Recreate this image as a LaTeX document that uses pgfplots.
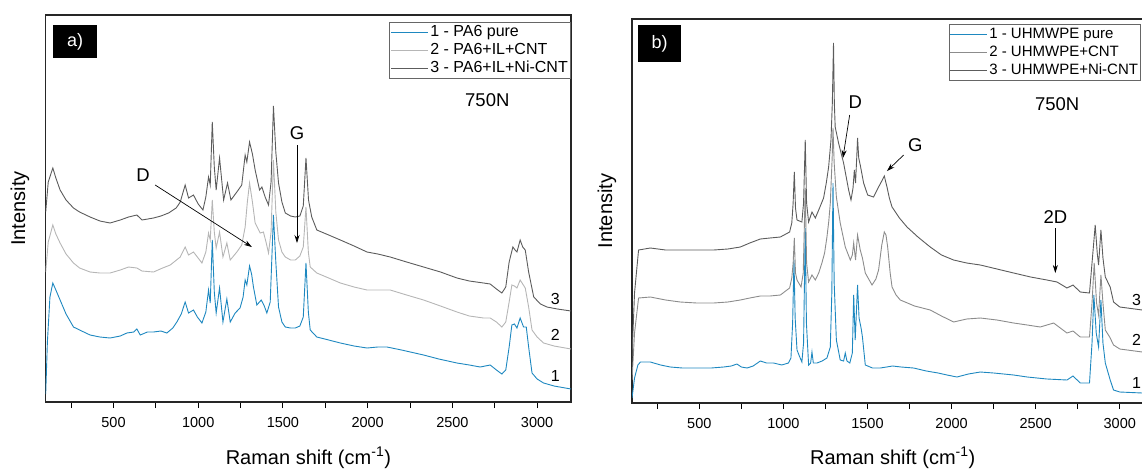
\documentclass[border=0pt]{standalone}
\usepackage{fontspec}
\setmainfont{Liberation Sans}
\usepackage{pgfplots}
\pgfplotsset{compat=1.18}
\usetikzlibrary{arrows.meta}

\definecolor{cblue}{RGB}{30,136,192}
\definecolor{clight}{RGB}{182,182,182}
\definecolor{cmid}{RGB}{140,140,140}
\definecolor{cdark}{RGB}{92,92,92}

\tikzset{
  ann/.style={font=\fontsize{18.5}{20}\selectfont},
  num/.style={font=\fontsize{16}{18}\selectfont},
  arr/.style={-{Stealth[length=8pt,width=5pt]}, line width=0.7pt, black},
  lab/.style={font=\fontsize{20}{22}\selectfont, anchor=center},
}

\pgfplotsset{
  raman/.style={
    scale only axis,
    xmin=100, xmax=3200, ymin=0,
    xtick={500,1000,...,3000},
    minor xtick={250,750,...,2750},
    ytick=\empty,
    tick pos=bottom, tick align=outside,
    major tick length=6pt, minor tick length=6pt,
    every tick/.style={black, line width=0.9pt},
    axis line style={black!85, line width=1.2pt},
    /pgf/number format/1000 sep={},
    /pgf/number format/assume math mode=true,
    xticklabel style={font=\fontsize{14.5}{16}\selectfont, yshift=-6pt},
    legend style={draw=black!60, line width=0.8pt, fill=white,
      font=\fontsize{16}{16}\selectfont, inner xsep=1pt, inner ysep=1pt,
      row sep=0pt, cells={anchor=west},
      nodes={inner sep=1.5pt, text height=11.5pt, text depth=3.5pt}},
    legend image code/.code={\draw[##1] (0pt,0pt) -- (37pt,0pt);},
    every axis plot/.append style={line width=0.9pt},
  },
}

\begin{document}
\begin{tikzpicture}

% ---------------- panel a) PA6 ----------------
\begin{axis}[raman,
  at={(45.7pt,-402pt)}, anchor=south west,
  width=525.3pt, height=387pt, ymax=387,
  xlabel={Raman shift (cm\textsuperscript{-1})},
  ylabel={Intensity},
  every axis x label/.style={lab, at={(axis description cs:0.5,-0.1447)}},
  every axis y label/.style={lab, at={(axis description cs:-0.0489,0.5)}, rotate=90},
  legend style={at={(axis description cs:0.9994,0.9827)}, anchor=north east},
]
\addplot[cblue] coordinates {
(100,8) (110,60) (125,105) (142,119) (160,112) (185,102) (220,88) (264,75) (300,72)
(362,67) (420,65) (480,64) (540,66) (579,69) (620,70) (638,73) (658,67) (700,70)
(736,70) (780,71) (815,69) (850,74) (874,80) (900,88) (923,100) (943,89) (972,92)
(995,85) (1022,79) (1045,90) (1061,112) (1071,99) (1083,162) (1095,110) (1106,89)
(1126,114) (1146,80) (1169,103) (1189,80) (1218,89) (1247,94) (1265,105) (1277,122)
(1287,117) (1303,136) (1315,128) (1326,115) (1346,97) (1372,102) (1390,96) (1405,89)
(1425,100) (1444,187) (1458,140) (1474,95) (1494,80) (1514,75) (1545,74) (1573,74)
(1600,76) (1620,85) (1636,139) (1650,90) (1661,72) (1700,65) (1770,62) (1839,59)
(1920,56) (1996,54) (2060,55) (2114,55) (2200,52) (2330,47) (2420,43) (2527,39)
(2600,37) (2664,35) (2723,37) (2760,32) (2792,28) (2815,32) (2835,55) (2851,77)
(2866,78) (2881,74) (2900,84) (2920,75) (2936,75) (2950,55) (2970,29) (3000,23)
(3038,19) (3100,16) (3200,13)
};
\addlegendentry{1 - PA6 pure}
\addplot[clight] coordinates {
(100,130) (115,160) (142,177) (160,168) (185,159) (220,148) (264,139) (300,134)
(362,130) (420,129) (480,129) (540,132) (589,135) (638,134) (668,131) (736,130)
(790,134) (835,137) (894,145) (923,155) (943,147) (972,150) (995,145) (1022,139)
(1045,150) (1061,169) (1071,162) (1083,202) (1095,170) (1106,154) (1126,170)
(1146,145) (1169,159) (1189,142) (1228,150) (1257,157) (1277,175) (1290,200)
(1303,219) (1320,200) (1336,179) (1366,169) (1385,170) (1400,160) (1415,149)
(1430,170) (1444,242) (1458,190) (1474,162) (1494,150) (1514,145) (1545,142)
(1573,142) (1600,146) (1620,155) (1636,195) (1650,150) (1661,135) (1700,129)
(1770,124) (1839,119) (1920,115) (1996,112) (2060,112) (2133,112) (2230,107)
(2330,102) (2430,96) (2527,90) (2600,86) (2684,84) (2723,84) (2760,80) (2792,75)
(2815,80) (2835,100) (2851,117) (2866,116) (2881,114) (2900,122) (2930,114)
(2950,95) (2970,72) (3000,65) (3038,59) (3100,56) (3200,53)
};
\addlegendentry{2 - PA6+IL+CNT}
\addplot[cdark] coordinates {
(100,190) (115,220) (142,234) (160,224) (185,212) (220,202) (264,194) (300,190)
(362,185) (420,181) (480,179) (540,182) (589,185) (638,187) (668,182) (736,184)
(780,186) (825,189) (870,194) (894,200) (923,217) (943,204) (972,207) (1000,198)
(1028,192) (1045,205) (1061,225) (1071,217) (1083,280) (1095,235) (1106,212)
(1126,244) (1150,202) (1173,219) (1193,202) (1228,210) (1257,217) (1277,247)
(1287,240) (1303,260) (1320,248) (1336,232) (1362,212) (1376,215) (1395,205)
(1415,197) (1430,220) (1444,296) (1458,250) (1474,219) (1494,200) (1514,189)
(1545,186) (1573,185) (1600,186) (1620,196) (1636,244) (1651,202) (1670,185)
(1700,172) (1770,167) (1839,162) (1920,156) (1996,150) (2060,148) (2133,145)
(2230,140) (2330,135) (2430,130) (2527,124) (2600,121) (2684,119) (2723,118)
(2760,113) (2792,109) (2815,115) (2835,140) (2857,155) (2870,152) (2881,150)
(2900,162) (2915,155) (2930,152) (2950,130) (2980,105) (3020,98) (3058,95)
(3120,93) (3200,91)
};
\addlegendentry{3 - PA6+IL+Ni-CNT}

\node[fill=black, text=white, anchor=north west, minimum width=44pt,
  minimum height=33pt, font=\fontsize{18}{20}\selectfont]
  at (axis description cs:0.0139,0.974) {a)};
\node[ann] at (axis cs:2706,302) {750N};
\node[ann] at (axis cs:1583,269) {G};
\draw[arr] (axis cs:1583,257) -- (axis cs:1583,159);
\node[ann] at (axis cs:674,227) {D};
\draw[arr] (axis cs:746,217) -- (axis cs:1317,155);
\node[num] at (axis cs:3107,26) {1};
\node[num] at (axis cs:3107,67) {2};
\node[num] at (axis cs:3107,103) {3};
\end{axis}

% ---------------- panel b) UHMWPE ----------------
\begin{axis}[raman,
  at={(632pt,-403pt)}, anchor=south west,
  width=521.4pt, height=384pt, ymax=384,
  xlabel={Raman shift (cm\textsuperscript{-1})},
  ylabel={Intensity},
  every axis x label/.style={lab, at={(axis description cs:0.5,-0.1432)}},
  every axis y label/.style={lab, at={(axis description cs:-0.048,0.5)}, rotate=90},
  legend style={at={(axis description cs:0.607,0.987)}, anchor=north west,
    font=\fontsize{15}{16}\selectfont},
]
\addplot[cblue] coordinates {
(100,5) (115,25) (135,38) (150,41) (209,41) (270,38) (328,36) (400,35) (486,35)
(570,35) (645,36) (690,37) (724,39) (750,36) (784,35) (820,37) (863,42) (900,40)
(942,40) (990,38) (1030,40) (1045,45) (1055,80) (1063,143) (1070,85) (1081,53)
(1095,47) (1110,41) (1120,60) (1130,175) (1137,80) (1150,38) (1162,40) (1170,51)
(1178,40) (1200,40) (1230,42) (1259,45) (1279,56) (1288,110) (1295,220) (1302,120)
(1315,63) (1338,43) (1358,42) (1368,50) (1378,42) (1395,40) (1410,50) (1418,108)
(1427,63) (1441,118) (1450,85) (1462,75) (1470,66) (1487,38) (1530,35) (1576,35)
(1650,37) (1700,36) (1774,35) (1850,32) (1920,30) (1973,28) (2032,26) (2100,29)
(2171,31) (2250,30) (2369,28) (2450,26) (2567,24) (2686,23) (2722,27) (2765,20)
(2820,20) (2835,60) (2846,108) (2860,70) (2874,56) (2888,103) (2900,60) (2914,40)
(2943,23) (2963,13) (3000,11) (3134,10) (3200,9)
};
\addlegendentry{1 - UHMWPE pure}
\addplot[cmid] coordinates {
(100,23) (115,70) (139,105) (209,106) (300,103) (387,101) (485,100) (585,100)
(670,101) (744,103) (800,105) (863,107) (920,107) (982,108) (1037,115) (1050,125)
(1058,140) (1065,165) (1072,130) (1081,123) (1105,116) (1118,130) (1130,215)
(1138,140) (1150,121) (1170,128) (1190,123) (1210,130) (1229,140) (1245,150)
(1259,166) (1270,182) (1279,200) (1290,245) (1295,275) (1302,240) (1315,206)
(1338,180) (1368,156) (1398,143) (1410,148) (1418,160) (1429,143) (1441,168)
(1457,153) (1470,145) (1487,130) (1527,118) (1550,124) (1566,133) (1585,158)
(1600,171) (1610,168) (1620,156) (1635,130) (1646,116) (1670,108) (1695,103)
(1780,97) (1873,93) (1940,87) (2012,81) (2090,84) (2171,85) (2270,83) (2369,80)
(2450,78) (2527,76) (2607,80) (2686,70) (2722,72) (2765,66) (2820,66) (2835,100)
(2848,140) (2862,100) (2874,88) (2888,128) (2900,100) (2914,73) (2940,66)
(2963,58) (3000,54) (3134,51) (3200,50)
};
\addlegendentry{2 - UHMWPE+CNT}
\addplot[cdark] coordinates {
(100,46) (115,110) (139,153) (209,155) (300,153) (387,153) (485,153) (585,153)
(670,154) (744,156) (800,160) (863,164) (920,165) (982,166) (1037,171) (1050,180)
(1058,200) (1065,231) (1072,195) (1081,183) (1110,181) (1120,200) (1130,263)
(1138,200) (1150,181) (1170,191) (1190,185) (1215,195) (1239,205) (1255,220)
(1269,236) (1283,263) (1291,300) (1298,360) (1303,300) (1308,276) (1318,268)
(1328,260) (1358,240) (1388,213) (1402,203) (1414,215) (1422,233) (1429,220)
(1436,245) (1441,265) (1448,245) (1457,238) (1477,220) (1501,208) (1536,206)
(1566,216) (1585,222) (1600,227) (1616,216) (1630,205) (1646,196) (1690,185)
(1735,176) (1800,166) (1873,156) (1940,148) (2012,143) (2090,140) (2171,138)
(2270,134) (2369,130) (2470,126) (2567,123) (2627,121) (2686,115) (2722,118)
(2765,111) (2820,110) (2835,140) (2854,178) (2866,150) (2874,138) (2888,173)
(2900,145) (2914,126) (2943,116) (2963,101) (3000,96) (3134,93) (3200,92)
};
\addlegendentry{3 - UHMWPE+Ni-CNT}

\node[fill=black, text=white, anchor=north west, minimum width=42.4pt,
  minimum height=36.7pt, font=\fontsize{18}{20}\selectfont]
  at (axis description cs:0.012,0.984) {b)};
\node[ann] at (axis cs:2628,299) {750N};
\node[ann] at (axis cs:1427,301) {D};
\draw[arr] (axis cs:1394,288) -- (axis cs:1354,245);
\node[ann] at (axis cs:1784,258) {G};
\draw[arr] (axis cs:1715,248) -- (axis cs:1616,232);
\node[ann] at (axis cs:2617,186) {2D};
\draw[arr] (axis cs:2617,175) -- (axis cs:2617,130);
\node[num] at (axis cs:3100,20) {1};
\node[num] at (axis cs:3100,63) {2};
\node[num] at (axis cs:3100,103) {3};
\end{axis}

\pgfresetboundingbox
\path[use as bounding box] (0pt,0pt) rectangle (1142pt,-469pt);
\end{tikzpicture}
\end{document}
